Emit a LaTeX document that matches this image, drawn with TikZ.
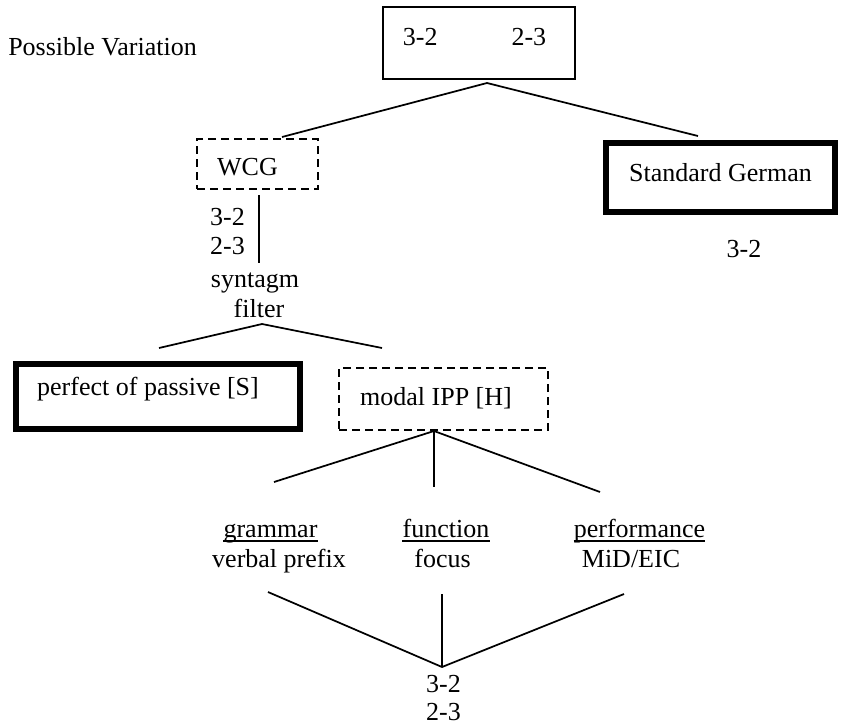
\documentclass[tikz,border=0pt]{standalone}
\usepackage{fontspec}
\setmainfont{Liberation Serif}
\begin{document}
\begin{tikzpicture}[x=0.75pt,y=-0.75pt]
\tikzset{
  fnt/.style={font=\fontsize{19.5pt}{22.5pt}\selectfont},
  txt/.style={fnt, inner sep=0pt, anchor=base},
  boxbase/.style={fnt, inner sep=0pt, text height=13.5pt},
  thinbox/.style={boxbase, draw, line width=1.3pt},
  thickbox/.style={boxbase, draw, line width=4.5pt},
  dashbox/.style={boxbase, draw, line width=1.3pt, dash pattern=on 6pt off 3.75pt},
  conn/.style={line width=1.3pt},
  ulrule/.style={line width=1pt}
}
\useasboundingbox (0,0) rectangle (841,726);

% title
\node[txt, anchor=base west] (title) at (8,55) {Possible Variation};

% boxes
\node[thinbox, minimum width=144pt, minimum height=54pt, text depth=10.5pt] (top) at (479,43)
  {3-2\hspace{55.5pt}2-3\hspace*{6.75pt}};
\node[dashbox, minimum width=90.75pt, minimum height=37.5pt, text height=16.5pt, text depth=0pt] (wcg) at (257.5,164)
  {WCG\hspace*{15pt}};
\node[thickbox, minimum width=171.75pt, minimum height=51.4pt, text depth=8.25pt] (sg) at (720.5,177.75)
  {Standard German};
\node[thickbox, minimum width=213pt, minimum height=48.75pt, text depth=15.75pt] (perf) at (158,396.5)
  {perfect of passive [S]\hspace*{15pt}};
\node[dashbox, minimum width=156.75pt, minimum height=46.5pt, text depth=4.5pt] (modal) at (443.5,399)
  {modal IPP [H]\hspace*{11.25pt}};

% plain labels
\node[txt] (sg32) at (744,257) {3-2};
\node[txt] (w32) at (227.5,225) {3-2};
\node[txt] (w23) at (227.5,254) {2-3};
\node[txt] (syn) at (255,287) {syntagm};
\node[txt] (fil) at (259,317) {filter};

\node[txt] (gram) at (270.5,537) {grammar};
\node[txt] (verb) at (279,567) {verbal prefix};
\node[txt] (func) at (446,537) {function};
\node[txt] (foc) at (442.5,567) {focus};
\node[txt] (perfm) at (639.5,537) {performance};
\node[txt] (mid) at (631,567) {MiD/EIC};

\node[txt] (b32) at (443.5,692) {3-2};
\node[txt] (b23) at (443.5,720) {2-3};

% underlines
\draw[ulrule] ([yshift=-3pt]gram.base west) -- ([yshift=-3pt]gram.base east);
\draw[ulrule] ([yshift=-3pt]func.base west) -- ([yshift=-3pt]func.base east);
\draw[ulrule] ([yshift=-3pt]perfm.base west) -- ([yshift=-3pt]perfm.base east);

% connector coordinates
\coordinate (a1) at (487,83);
\coordinate (a1l) at (282,137);
\coordinate (a1r) at (698,136);
\coordinate (s1) at (259,195);
\coordinate (s2) at (259,263);
\coordinate (a2) at (262,324);
\coordinate (a2l) at (159,348);
\coordinate (a2r) at (382,348);
\coordinate (a3) at (434,431);
\coordinate (a3l) at (274,482);
\coordinate (a3m) at (434,487);
\coordinate (a3r) at (600,492);
\coordinate (a4) at (442,667);
\coordinate (a4l) at (268,592);
\coordinate (a4m) at (442,594);
\coordinate (a4r) at (624,594);

% connectors
\draw[conn] (a1l) -- (a1) -- (a1r);
\draw[conn] (s1) -- (s2);
\draw[conn] (a2l) -- (a2) -- (a2r);
\draw[conn] (a3l) -- (a3) -- (a3r);
\draw[conn] (a3) -- (a3m);
\draw[conn] (a4l) -- (a4) -- (a4r);
\draw[conn] (a4m) -- (a4);
\end{tikzpicture}
\end{document}
